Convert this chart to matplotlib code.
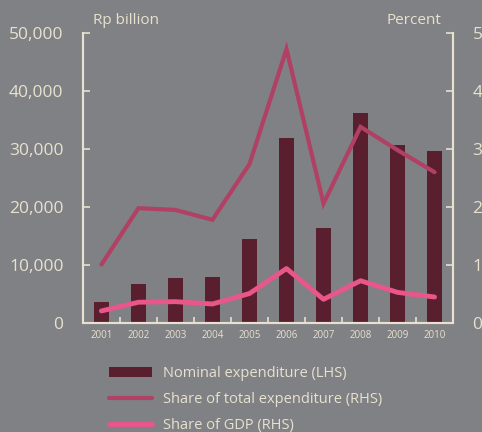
import matplotlib.pyplot as plt
import numpy as np

years = ["2001", "2002", "2003", "2004", "2005", "2006", "2007", "2008", "2009", "2010"]
nominal = [3700, 6700, 7800, 7900, 14500, 31900, 16400, 36200, 30700, 29700]
share_total = [1.01, 1.98, 1.95, 1.78, 2.74, 4.72, 2.06, 3.38, 2.98, 2.60]
share_gdp = [0.21, 0.36, 0.37, 0.33, 0.51, 0.94, 0.41, 0.73, 0.53, 0.45]

bg = "#808184"
cream = "#e8e1cf"
bar_col = "#5a1f2e"
line1 = "#b04064"
line2 = "#e8568a"

plt.rcParams["font.family"] = ["Open Sans", "DejaVu Sans"]

fig = plt.figure(figsize=(4.82, 4.32), dpi=100, facecolor=bg)
ax = fig.add_axes([0.172, 0.252, 0.768, 0.672], facecolor=bg)
ax2 = ax.twinx()

x = np.arange(len(years))
b = ax.bar(x, nominal, width=0.4, color=bar_col, zorder=2)
l1, = ax2.plot(x, share_total, color=line1, lw=3, solid_capstyle="round", solid_joinstyle="miter")
l2, = ax2.plot(x, share_gdp, color=line2, lw=3.5, solid_capstyle="round")

ax.set_xlim(-0.5, 9.5)
ax.set_ylim(0, 50000)
ax2.set_ylim(0, 5)

ax.set_yticks(np.arange(0, 50001, 10000))
ax.set_yticklabels(["0", "10,000", "20,000", "30,000", "40,000", "50,000"])
ax2.set_yticks(np.arange(0, 6, 1))

ax.set_xticks(x)
ax.set_xticklabels(years)
ax.set_xticks(np.arange(0.5, 9.5, 1), minor=True)

for a in (ax, ax2):
    for s in a.spines.values():
        s.set_color(cream)
        s.set_linewidth(1.5)
    a.spines["top"].set_visible(False)

ax.tick_params(axis="y", direction="in", length=5, width=1.2, color=cream,
               labelcolor=cream, labelsize=12.5, pad=14)
ax2.tick_params(axis="y", direction="in", length=5, width=1.2, color=cream,
                labelcolor=cream, labelsize=12.5, pad=14)
ax.tick_params(axis="x", which="major", length=0, labelcolor=cream, labelsize=7, pad=5)
ax.tick_params(axis="x", which="minor", direction="in", length=4, width=1.2, color=cream)

fig.text(0.193, 0.953, "Rp billion", color=cream, fontsize=11, va="center")
fig.text(0.915, 0.953, "Percent", color=cream, fontsize=11, va="center", ha="right")

leg = fig.legend([b, l1, l2],
                 ["Nominal expenditure (LHS)", "Share of total expenditure (RHS)", "Share of GDP (RHS)"],
                 loc="upper left", bbox_to_anchor=(0.215, 0.166), frameon=False,
                 fontsize=10.5, handlelength=2.9, handleheight=0.7, labelspacing=0.75,
                 handletextpad=0.8, borderaxespad=0)
for t in leg.get_texts():
    t.set_color(cream)

fig.savefig("out.png", dpi=100, facecolor=bg)
